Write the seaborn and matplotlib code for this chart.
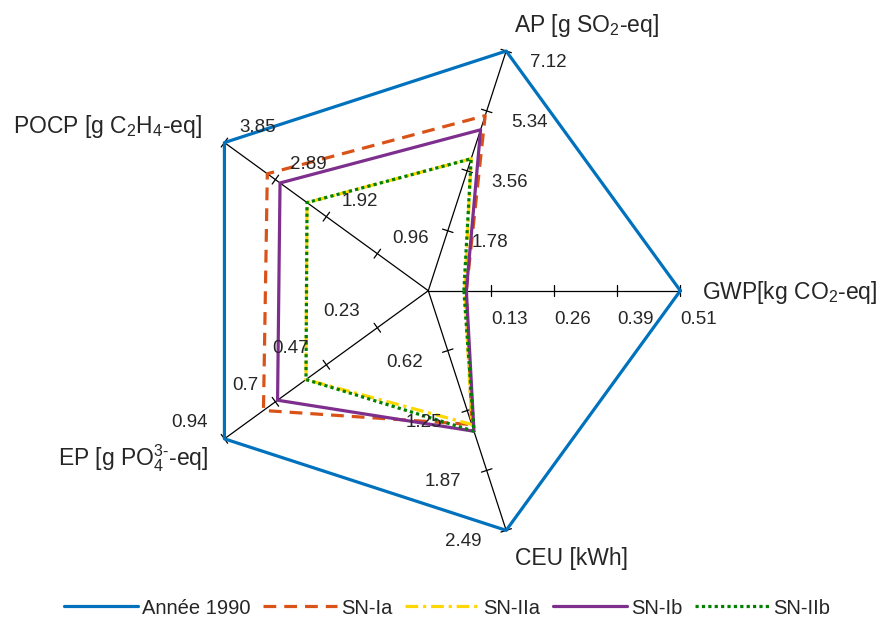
import numpy as np
import pandas as pd
import matplotlib.pyplot as plt
import seaborn as sns

# axes of the spider plot (counter-clockwise from the right)
axis_names = [r'GWP[kg CO$_\mathregular{2}$-eq]',
              r'AP [g SO$_\mathregular{2}$-eq]',
              r'POCP [g C$_\mathregular{2}$H$_\mathregular{4}$-eq]',
              r'EP [g PO$_\mathregular{4}^\mathregular{3\text{-}}$-eq]',
              'CEU [kWh]']
axis_max = [0.51, 7.12, 3.85, 0.94, 2.49]
tick_labels = [['0.13', '0.26', '0.39', '0.51'],
               ['1.78', '3.56', '5.34', '7.12'],
               ['0.96', '1.92', '2.89', '3.85'],
               ['0.23', '0.47', '0.7', '0.94'],
               ['0.62', '1.25', '1.87', '2.49']]

series_names = ['Année 1990', 'SN-Ia', 'SN-IIa', 'SN-Ib', 'SN-IIb']
annee_1990 = [0.51, 7.12, 3.85, 0.94, 2.49]
sn_ia = [0.077, 5.20, 3.04, 0.76, 1.39]
sn_iia = [0.074, 3.92, 2.29, 0.564, 1.39]
sn_ib = [0.077, 4.78, 2.80, 0.695, 1.46]
sn_iib = [0.072, 3.92, 2.29, 0.564, 1.46]
series_values = [annee_1990, sn_ia, sn_iia, sn_ib, sn_iib]

colors = ['#0072BD', '#D95319', '#FFD700', '#7E2F8E', '#008000']
dashes = ['-', (0, (4, 2.5)), (0, (4, 1.5, 1, 1.5)), '-', (0, (1, 1))]

sns.set_style('white')
plt.rcParams['font.family'] = ['Liberation Sans', 'DejaVu Sans']
plt.rcParams['mathtext.fontset'] = 'custom'
plt.rcParams['mathtext.rm'] = 'Liberation Sans'
plt.rcParams['mathtext.it'] = 'Liberation Sans:italic'

W, H = 882, 619
cx, cy, R = 428.3, 290.7, 252.0

fig = plt.figure(figsize=(W / 100, H / 100), dpi=100)
ax = fig.add_axes([0, 0, 1, 1])
ax.set_xlim(-cx / R, (W - cx) / R)
ax.set_ylim(-(H - cy) / R, cy / R)
ax.axis('off')

angles = np.deg2rad(np.arange(5) * 72.0)
dirs = np.c_[np.cos(angles), np.sin(angles)]

tick_off = [(0, -33, 'left'), (24, -16, 'left'), (15, 11, 'left'),
            (-17, 12, 'right'), (-25, -16, 'right')]
title_off = [(22, -8, 'left'), (8, 19, 'left'), (-22, 10, 'right'),
             (-16, -27, 'right'), (9, -35, 'left')]

for i, (dx, dy) in enumerate(dirs):
    ax.plot([0, dx], [0, dy], color='black', lw=0.9, zorder=1)
    px, py = -dy, dx
    for k, frac in enumerate([0.25, 0.5, 0.75, 1.0]):
        tx, ty = dx * frac, dy * frac
        h = 5.5 / R
        ax.plot([tx - px * h, tx + px * h], [ty - py * h, ty + py * h],
                color='black', lw=0.9, zorder=1)
        ox, oy, ha = tick_off[i]
        ax.annotate(tick_labels[i][k], (tx, ty), xytext=(ox, oy),
                    textcoords='offset pixels', ha=ha, va='baseline',
                    fontsize=13.5, zorder=5)
    ox, oy, ha = title_off[i]
    ax.annotate(axis_names[i], (dx, dy), xytext=(ox, oy),
                textcoords='offset pixels', ha=ha, va='baseline',
                fontsize=16.5)

for name, vals, col, ls in zip(series_names, series_values, colors, dashes):
    frac = np.array(vals) / np.array(axis_max)
    pts = dirs * frac[:, None]
    pts = np.vstack([pts, pts[:1]])
    df = pd.DataFrame({'x': pts[:, 0], 'y': pts[:, 1]})
    sns.lineplot(data=df, x='x', y='y', sort=False, estimator=None,
                 color=col, lw=2.3, linestyle=ls, label=name, ax=ax,
                 zorder=3)

ax.legend(loc='center', bbox_to_anchor=(447 / W, 11 / H),
          bbox_transform=fig.transFigure, ncol=5, frameon=False,
          fontsize=14.5, handlelength=3.7, handletextpad=0.2,
          columnspacing=0.6, borderpad=0)

fig.savefig('out.png', dpi=100)
